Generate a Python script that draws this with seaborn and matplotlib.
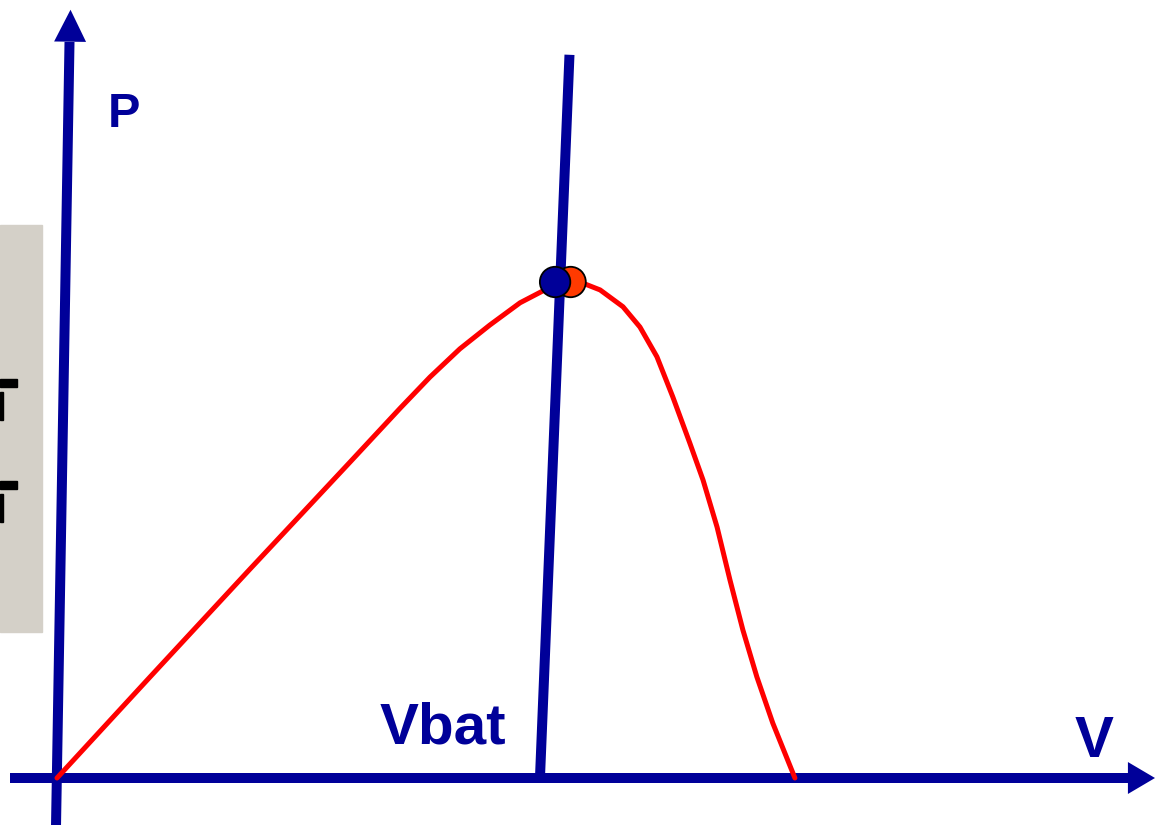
import matplotlib

matplotlib.use("Agg")
import matplotlib.pyplot as plt
import pandas as pd
import seaborn as sns
from matplotlib.patches import Rectangle


# P-V curve of the panel: voltage in volts, power in % of the maximum
VOLTAGE = [0.0, 2.52, 5.23, 7.94, 9.30, 10.11, 10.92, 11.73, 12.55, 13.22,
           13.55, 13.90, 14.31, 14.72, 15.34, 15.80, 16.26, 16.69, 17.15,
           17.51, 17.89, 18.24, 18.59, 18.97, 19.40, 20.0]
POWER = [0.0, 20.4, 42.2, 63.8, 74.7, 81.0, 86.7, 91.5, 96.0, 98.6,
         99.4, 100.2, 99.8, 98.6, 95.2, 91.1, 85.1, 77.0, 67.7,
         60.2, 50.7, 40.0, 29.9, 20.4, 11.1, 0.0]

# battery voltage line (drawn slightly slanted, as in the sketch)
VBAT_V = [13.09, 13.89]
VBAT_P = [0.0, 146.1]

# maximum power point (orange) and operating point on the battery line (blue)
POINT_LABELS = ["MPP", "Vbat"]
POINT_V = [13.92, 13.50]
POINT_P = [100.2, 100.2]

AXIS_COLOR = "#000099"
CURVE_COLOR = "#FF0000"
MPP_COLOR = "#FF3A00"
FONT = ["Liberation Sans", "DejaVu Sans"]


def draw_arrow_head(ax, base, tip, length, half_width):
    ax.annotate(
        "",
        xy=tip,
        xytext=base,
        arrowprops=dict(
            arrowstyle=f"-|>,head_length={length},head_width={half_width}",
            mutation_scale=10,
            lw=0,
            color=AXIS_COLOR,
            shrinkA=0,
            shrinkB=0,
        ),
        zorder=3,
    )


def main() -> None:
    sns.set_theme(style="white")
    plt.rcParams["font.family"] = FONT

    fig = plt.figure(figsize=(11.55, 8.25), dpi=100)
    ax = fig.add_axes([0, 0, 1, 1])
    ax.set_xlim(-1.545, 29.76)
    ax.set_ylim(-9.495, 157.17)
    ax.axis("off")

    # grey side panel with clipped slide text
    fig.patches.append(Rectangle((0, 193 / 825), 42 / 1155, 407 / 825,
                                 transform=fig.transFigure, color="#D4D0C8", zorder=0))
    for top in (379, 481):
        fig.patches.append(Rectangle((0, (825 - top - 8) / 825), 17 / 1155, 8 / 825,
                                     transform=fig.transFigure, color="black", zorder=1))
        fig.patches.append(Rectangle((0, (825 - top - 41) / 825), 3 / 1155, 28 / 825,
                                     transform=fig.transFigure, color="black", zorder=1))

    # axes drawn as arrows
    ax.plot([-0.03, 0.339], [-11, 148.7], color=AXIS_COLOR, lw=7.2,
            solid_capstyle="butt", zorder=2)
    draw_arrow_head(ax, (0.339, 140.0), (0.366, 155.2), 2.3, 1.15)
    ax.plot([-1.27, 29.02], [0, 0], color=AXIS_COLOR, lw=7.2,
            solid_capstyle="butt", zorder=2)
    draw_arrow_head(ax, (28.0, 0), (29.76, 0), 1.95, 1.15)

    curve = pd.DataFrame({"V": VOLTAGE, "P": POWER})
    sns.lineplot(data=curve, x="V", y="P", sort=False, color=CURVE_COLOR, lw=3.6,
                 solid_joinstyle="round", ax=ax, zorder=4)

    ax.plot(VBAT_V, VBAT_P, color=AXIS_COLOR, lw=7.2, solid_capstyle="butt", zorder=5)

    points = pd.DataFrame({"label": POINT_LABELS, "V": POINT_V, "P": POINT_P})
    sns.scatterplot(data=points, x="V", y="P", hue="label",
                    palette={"MPP": MPP_COLOR, "Vbat": AXIS_COLOR},
                    s=480, edgecolor="black", linewidth=1.3, legend=False,
                    ax=ax, zorder=6)

    text_style = dict(color=AXIS_COLOR, fontweight="bold", ha="left", va="baseline",
                      family=FONT)
    ax.text(1.38, 131.5, "P", fontsize=35, **text_style)
    ax.text(8.73, 7.0, "Vbat", fontsize=42, **text_style)
    ax.text(27.58, 4.2, "V", fontsize=42, **text_style)

    ax.set_xlabel("")
    ax.set_ylabel("")
    fig.savefig("out.png", dpi=100)
    plt.close(fig)


if __name__ == "__main__":
    main()
